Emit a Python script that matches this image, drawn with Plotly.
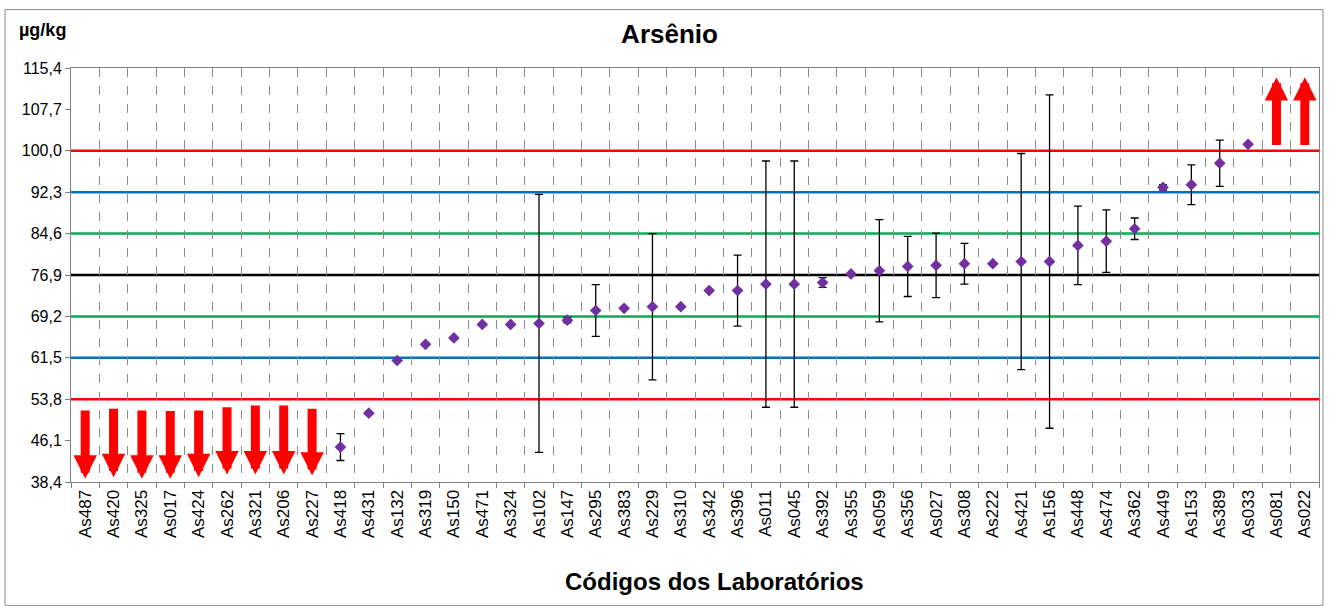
import plotly.graph_objects as go

# laboratórios em ordem
labs = ["As487", "As420", "As325", "As017", "As424", "As262", "As321", "As206", "As227",
        "As418", "As431", "As132", "As319", "As150", "As471", "As324", "As102", "As147",
        "As295", "As383", "As229", "As310", "As342", "As396", "As011", "As045", "As392",
        "As355", "As059", "As356", "As027", "As308", "As222", "As421", "As156", "As448",
        "As474", "As362", "As449", "As153", "As389", "As033", "As081", "As022"]

# resultados (None = fora da escala, indicado por seta)
results = [None] * 9 + [44.9, 51.2, 61.0, 64.0, 65.2, 67.7, 67.7, 67.9, 68.5, 70.3,
                        70.7, 71.0, 71.0, 74.0, 74.0, 75.2, 75.2, 75.5, 77.1, 77.7,
                        78.5, 78.7, 79.0, 79.0, 79.4, 79.4, 82.4, 83.2, 85.5, 93.2,
                        93.7, 97.7, 101.2] + [None, None]

# incertezas expandidas
uncert = [None] * 9 + [2.5, None, None, None, None, None, None, 24.0, 0.5, 4.8,
                       None, 13.6, None, None, 6.6, 22.9, 22.9, 0.9, None, 9.5,
                       5.6, 6.0, 3.8, None, 20.1, 31.0, 7.3, 5.8, 2.0, 0.5,
                       3.7, 4.3, None] + [None, None]

# setas: abaixo (labs 0-8) e acima (labs 42-43)
down_top = [52.0, 52.3, 52.0, 51.9, 52.0, 52.6, 52.9, 52.9, 52.3]
down_tip = [39.0, 39.3, 39.0, 39.0, 39.3, 39.8, 39.8, 39.8, 39.6]
up_idx = [42, 43]
up_base = [100.8, 100.8]
up_tip = [113.7, 113.7]

# linhas de referência
ref_vals = [100.0, 92.3, 84.6, 76.9, 69.2, 61.5, 53.8]
ref_colors = ["#ff0000", "#0070c0", "#00b050", "#000000", "#00b050", "#0070c0", "#ff0000"]

yticks = [38.4, 46.1, 53.8, 61.5, 69.2, 76.9, 84.6, 92.3, 100.0, 107.7, 115.4]

font = "Liberation Sans, Arial, sans-serif"
idx = list(range(len(labs)))

fig = go.Figure()

for v, c in zip(ref_vals, ref_colors):
    fig.add_shape(type="line", xref="paper", x0=0, x1=1, yref="y", y0=v, y1=v,
                  line=dict(color=c, width=2.5), layer="below")

err = [e if e is not None else float("nan") for e in uncert]
fig.add_trace(go.Scatter(
    x=idx, y=results, mode="markers",
    marker=dict(symbol="diamond", size=9, color="#7030a0"),
    error_y=dict(type="data", array=err, visible=True, color="black",
                 thickness=1.3, width=4),
    showlegend=False))

arrow = dict(xref="x", yref="y", axref="x", ayref="y", text="", showarrow=True,
             arrowhead=2, arrowsize=0.52, arrowwidth=9, arrowcolor="#ff0000", standoff=0)
anns = []
for i in range(len(down_top)):
    anns.append(dict(arrow, x=i, y=down_tip[i], ax=i, ay=down_top[i]))
for k, i in enumerate(up_idx):
    anns.append(dict(arrow, x=i, y=up_tip[k], ax=i, ay=up_base[k]))

anns.append(dict(text="<b>µg/kg</b>", xref="paper", yref="paper", x=-0.043, y=1.091,
                 xanchor="left", yanchor="middle", showarrow=False,
                 font=dict(family=font, size=18, color="black")))
anns.append(dict(text="<b>Códigos dos Laboratórios</b>", xref="paper", yref="paper",
                 x=0.5155, y=-0.2415, xanchor="center", yanchor="middle", showarrow=False,
                 font=dict(family=font, size=24, color="black")))

fig.add_shape(type="rect", xref="paper", yref="paper", x0=-0.0529, x1=1.0032,
              y0=-0.298, y1=1.141, line=dict(color="#8c8c8c", width=1))

fig.update_layout(
    width=1330, height=606,
    margin=dict(l=71, r=11, t=68, b=124),
    paper_bgcolor="white", plot_bgcolor="white",
    separators=",.",
    title=dict(text="<b>Arsênio</b>", x=0.5034, y=0.944, xanchor="center", yanchor="middle",
               font=dict(family=font, size=26, color="black")),
    annotations=anns,
    xaxis=dict(range=[-0.5, len(labs) - 0.5], tickmode="array", tickvals=idx,
               ticktext=labs, tickangle=-90, ticks="", showgrid=False, zeroline=False,
               automargin=False,
               tickfont=dict(family=font, size=17, color="black"),
               showline=True, linecolor="#808080", linewidth=1, mirror=True,
               minor=dict(tick0=-0.5, dtick=1, showgrid=True, gridcolor="#8c8c8c",
                          griddash="dash", gridwidth=1, ticks="outside", ticklen=5,
                          tickcolor="#808080")),
    yaxis=dict(range=[38.4, 115.4], tickmode="array", tickvals=yticks,
               tickformat=".1f", ticks="outside", ticklen=5, tickcolor="#808080",
               showgrid=False, zeroline=False, automargin=False,
               tickfont=dict(family=font, size=16, color="black"),
               showline=True, linecolor="#808080", linewidth=1, mirror=True),
)

fig.write_html("out.html", config={"displayModeBar": False},
               post_script="document.body.style.margin='0';")
